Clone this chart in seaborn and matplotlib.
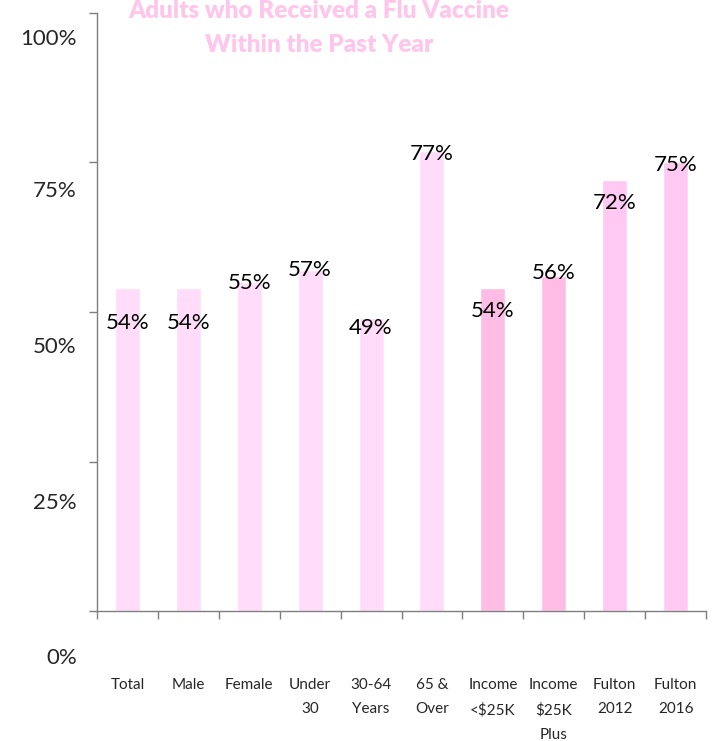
import numpy as np
import pandas as pd
import seaborn as sns
import matplotlib.pyplot as plt

# data
categories = ["Total", "Male", "Female", "Under 30", "30-64 Years", "65 & Over",
              "Income <$25K", "Income $25K Plus", "Fulton 2012", "Fulton 2016"]
tick_labels = ["Total", "Male", "Female", "Under\n30", "30-64\nYears", "65 &\nOver",
               "Income\n<$25K", "Income\n$25K\nPlus", "Fulton\n2012", "Fulton\n2016"]
values = [54, 54, 55, 57, 49, 77, 54, 56, 72, 75]
value_labels = ["54%", "54%", "55%", "57%", "49%", "77%", "54%", "56%", "72%", "75%"]
label_pos = [48.2, 48.2, 54.8, 57.0, 47.4, 76.5, 50.1, 56.6, 68.3, 74.5]
bar_colors = ["#FFDDFA"] * 6 + ["#FFBCE4"] * 2 + ["#FFC9F4"] * 2

yticks = [0, 25, 50, 75, 100]
ytick_text = ["0%", "25%", "50%", "75%", "100%"]
ytick_text_pos = [-7.9, 18.1, 44.1, 70.2, 95.6]

sns.set_style("white")
plt.rcParams['font.family'] = ['Lato', 'DejaVu Sans']

df = pd.DataFrame({"cat": categories, "val": values})

fig = plt.figure(figsize=(7.17, 7.41), dpi=100)
ax = fig.add_axes([0.1353, 0.1754, 0.8494, 0.8071])

sns.barplot(data=df, x="cat", y="val", hue="cat", palette=bar_colors,
            legend=False, width=0.41, saturation=1, ax=ax)

ax.set_xlim(-0.5, 9.5)
ax.set_ylim(0, 100)

# value labels
for i, (lab, yp) in enumerate(zip(value_labels, label_pos)):
    ax.text(i, yp, lab, ha="center", va="center", fontsize=16, color="black")

# y axis: ticks on the axis, labels drawn lower as in the original
ax.set_yticks(yticks)
ax.set_yticklabels([])
for t, yp in zip(ytick_text, ytick_text_pos):
    ax.text(-0.033, yp, t, ha="right", va="center", fontsize=16,
            transform=ax.get_yaxis_transform(), clip_on=False)
ax.tick_params(axis="y", direction="out", length=6, width=1, color="#7f7f7f", left=True)

# x axis: tick marks at category boundaries, labels at centres
ax.set_xticks(np.arange(-0.5, 10, 1))
ax.set_xticklabels([])
ax.set_xticks(range(len(categories)), tick_labels, minor=True)
ax.tick_params(axis="x", which="major", direction="out", length=6, width=1,
               color="#7f7f7f", bottom=True)
ax.tick_params(axis="x", which="minor", length=0, pad=48, labelsize=11)
for lab in ax.get_xticklabels(minor=True):
    lab.set_linespacing(1.95)
    lab.set_verticalalignment("top")

ax.set_xlabel("")
ax.set_ylabel("")
sns.despine(ax=ax, top=True, right=True)
for s in ["left", "bottom"]:
    ax.spines[s].set_color("#7f7f7f")
    ax.spines[s].set_linewidth(1)

fig.text(0.445, 1 - 28 / 741, "Adults who Received a Flu Vaccine\nWithin the Past Year",
         ha="center", va="center", fontsize=17.5, fontweight="heavy",
         color="#FFC6EC", linespacing=1.7)

plt.savefig("out.png", dpi=100)
